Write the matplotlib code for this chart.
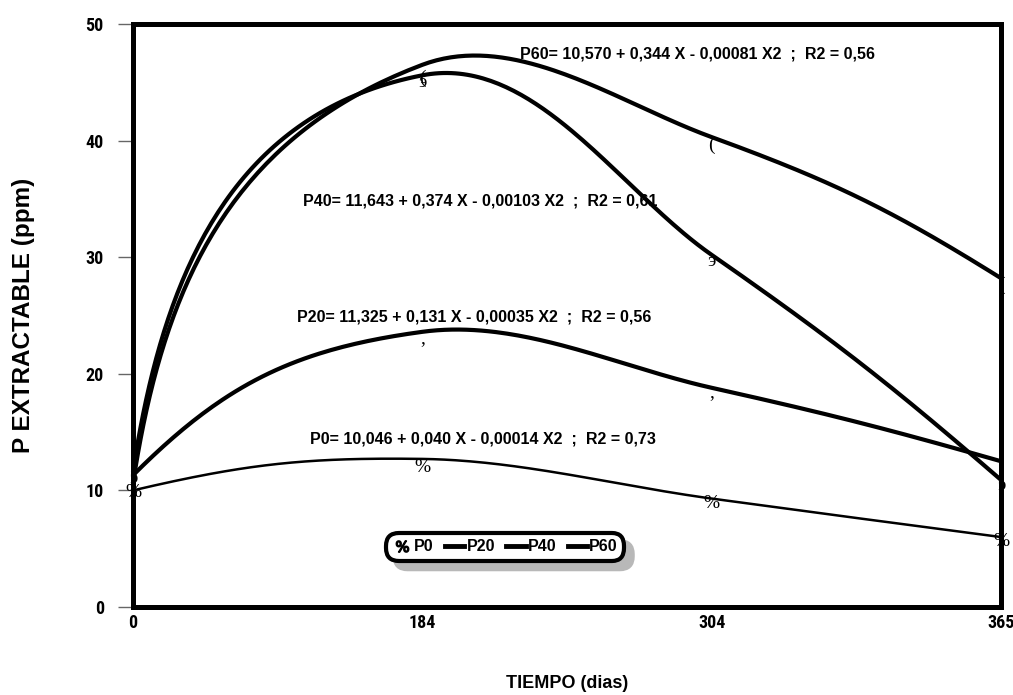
import numpy as np
import matplotlib
matplotlib.use("Agg")
import matplotlib.pyplot as plt
from matplotlib.lines import Line2D
from matplotlib import font_manager

# categorias del eje X (dias) - espaciadas por igual
dias = ["0", "184", "304", "365"]
xpos = [0, 1, 2, 3]

# curvas ajustadas
p0_fit = [10.0, 12.7, 9.3, 6.0]
p20_fit = [11.3, 23.6, 18.8, 12.5]
p40_fit = [11.6, 45.6, 30.2, 10.9]
p60_fit = [10.6, 46.5, 40.3, 28.2]

# valores observados (marcadores)
p0_obs = [9.8, 12.0, 8.9, 5.6]
p20_obs = [11.0, 23.0, 18.4, 12.4]
p40_obs = [11.0, 45.0, 29.6, 10.4]
p60_obs = [10.5, 45.3, 39.6, 27.6]

ecuaciones = [
    "P60= 10,570 + 0,344 X - 0,00081 X2  ;  R2 = 0,56",
    "P40= 11,643 + 0,374 X - 0,00103 X2  ;  R2 = 0,61",
    "P20= 11,325 + 0,131 X - 0,00035 X2  ;  R2 = 0,56",
    "P0= 10,046 + 0,040 X - 0,00014 X2  ;  R2 = 0,73",
]
pos_ecuaciones = [(1.336, 47.4), (0.588, 34.8), (0.567, 24.9), (0.612, 14.4)]

# fuente estrecha para los ticks si existe
nombres = {f.name for f in font_manager.fontManager.ttflist}
fuente_ticks = "Liberation Sans"
for cand in ["Liberation Sans Narrow", "Roboto Condensed", "DejaVu Sans Condensed", "Open Sans Condensed"]:
    if cand in nombres:
        fuente_ticks = cand
        break


def suavizar(xv, yv, sx, sy, n=80):
    # curva bezier suavizada (estilo Excel) calculada en pixeles
    P = np.column_stack([np.asarray(xv, float) * sx, np.asarray(yv, float) * sy])
    m = len(P)
    cuerdas = P[1:] - P[:-1]
    largos = np.hypot(cuerdas[:, 0], cuerdas[:, 1])
    u = cuerdas / largos[:, None]
    T = np.zeros_like(P)
    for i in range(1, m - 1):
        t = u[i - 1] + u[i]
        T[i] = t / np.hypot(*t)
    T[0] = 2 * np.dot(u[0], T[1]) * u[0] - T[1]
    T[-1] = 2 * np.dot(u[-1], T[-2]) * u[-1] - T[-2]
    for j in (0, -1):
        if T[j][0] < 0.15:
            T[j] = np.array([0.15, np.sign(T[j][1]) * np.sqrt(1 - 0.15 ** 2)])
    xs, ys = [], []
    t = np.linspace(0, 1, n)[:, None]
    for i in range(m - 1):
        k = 0.4 if (i == 0 or i == m - 2) else 1 / 3
        c1 = P[i] + k * largos[i] * T[i]
        c2 = P[i + 1] - k * largos[i] * T[i + 1]
        B = ((1 - t) ** 3) * P[i] + 3 * ((1 - t) ** 2) * t * c1 \
            + 3 * (1 - t) * t ** 2 * c2 + t ** 3 * P[i + 1]
        xs.append(B[:, 0] / sx)
        ys.append(B[:, 1] / sy)
    return np.concatenate(xs), np.concatenate(ys)


fig = plt.figure(figsize=(10.13, 6.95), dpi=100)
ax = fig.add_axes([133 / 1013, 1 - 607 / 695, 868 / 1013, 583 / 695])
ax.set_xlim(0, 3)
ax.set_ylim(0, 50)

# escala en pixeles por unidad
sx = 868 / 3
sy = 583 / 50

series = [
    (p0_fit, p0_obs, "%", 1.8, "P0"),
    (p20_fit, p20_obs, ",", 3.0, "P20"),
    (p40_fit, p40_obs, "э", 3.0, "P40"),
    (p60_fit, p60_obs, "(", 3.0, "P60"),
]

for fit, obs, glifo, lw, nombre in series:
    cx, cy = suavizar(xpos, fit, sx, sy)
    ax.plot(cx, cy, color="black", lw=lw, solid_capstyle="round", clip_on=False, zorder=3)
    for x, y in zip(xpos, obs):
        ax.text(x, y, glifo, ha="center", va="center", fontsize=14,
                family=["Liberation Serif", "DejaVu Serif"], zorder=4, clip_on=False)

for txt, (x, y) in zip(ecuaciones, pos_ecuaciones):
    ax.text(x, y, txt, ha="left", va="center", fontsize=11.5, fontweight="bold",
            family="Liberation Sans", zorder=5)

for s in ax.spines.values():
    s.set_linewidth(3.6)
    s.set_zorder(6)

ax.set_xticks(xpos)
ax.set_xticklabels(dias)
ax.set_yticks([0, 10, 20, 30, 40, 50])
ax.tick_params(axis="y", direction="out", length=11, width=1, color="0.4", pad=10)
ax.tick_params(axis="x", direction="out", length=0, pad=5)
for lab in ax.get_xticklabels() + ax.get_yticklabels():
    lab.set_family(fuente_ticks)
    lab.set_fontweight("bold")
    lab.set_fontsize(13)

ax.set_ylabel("P EXTRACTABLE (ppm)", fontsize=17.5, fontweight="bold", family="Liberation Sans")
ax.yaxis.set_label_coords(-0.113, 0.5)
fig.text(567 / 1013, 1 - 683 / 695, "TIEMPO (dias)", ha="center", va="center",
         fontsize=13, fontweight="bold", family="Liberation Sans")

# leyenda
handles = [
    Line2D([], [], color="black", lw=0, marker=r"$\%$", markersize=9),
    Line2D([], [], color="black", lw=3.5),
    Line2D([], [], color="black", lw=3.5),
    Line2D([], [], color="black", lw=3.5),
]
leg = ax.legend(handles, ["P0", "P20", "P40", "P60"], loc="center",
                bbox_to_anchor=(0.429, 0.103), ncol=4, frameon=True, fancybox=True,
                handlelength=1.2, handletextpad=0.15, columnspacing=0.7,
                borderpad=0.2, prop={"family": "Liberation Sans", "weight": "bold", "size": 11.5},
                shadow={"ox": 6, "oy": -6, "facecolor": "0.72", "edgecolor": "0.72", "alpha": 1})
leg.get_frame().set_edgecolor("black")
leg.get_frame().set_linewidth(3)
leg.get_frame().set_boxstyle("round,pad=0.2,rounding_size=0.8")
leg.set_zorder(7)

fig.savefig("out.png", dpi=100)
